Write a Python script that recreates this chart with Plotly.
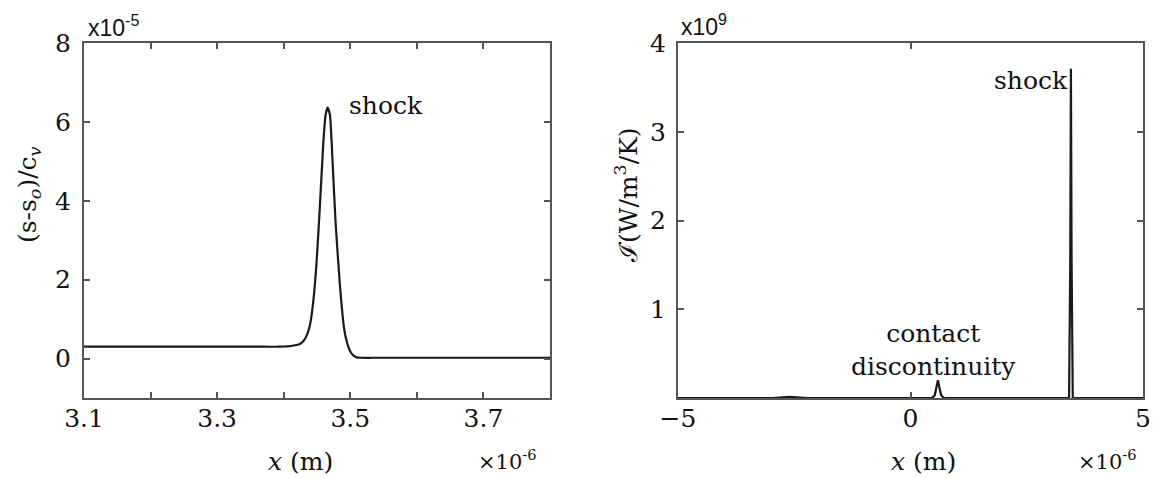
import plotly.graph_objects as go

# Entropy profile across the shock (x in 1e-6 m, value in 1e-5)
x_entropy = [3.10, 3.20, 3.30, 3.35, 3.37, 3.39, 3.40, 3.405, 3.415, 3.4243, 3.4300,
             3.4344, 3.4393, 3.4443, 3.4494, 3.4544, 3.4593, 3.4629, 3.4659,
             3.4694, 3.4734, 3.4779, 3.4844, 3.4908, 3.4955, 3.4994, 3.5045,
             3.5095, 3.518, 3.532, 3.55, 3.60, 3.70, 3.80]
s_entropy = [0.30, 0.30, 0.30, 0.30, 0.30, 0.30, 0.305, 0.31, 0.33, 0.37, 0.45,
             0.58, 0.84, 1.43, 2.45, 3.89, 5.41, 6.18, 6.36,
             6.18, 4.99, 3.46, 1.86, 0.75, 0.38, 0.20, 0.08,
             0.03, 0.02, 0.02, 0.02, 0.02, 0.02, 0.02]

# Entropy generation rate over the domain (x in 1e-6 m, value in 1e9 W/m^3/K)
x_gen = [-5.0, -3.0, -2.96, -2.6, -2.23, 0.0, 0.46, 0.52, 0.56, 0.59, 0.62, 0.66,
         0.72, 3.41, 3.435, 3.45, 3.465, 3.49, 5.0]
i_gen = [0.0, 0.0, 0.0, 0.012, 0.0, 0.0, 0.0, 0.03, 0.12, 0.20, 0.12, 0.03,
         0.0, 0.0, 1.5, 3.71, 1.5, 0.0, 0.0]

left_xticks = [3.1, 3.2, 3.3, 3.4, 3.5, 3.6, 3.7, 3.8]
left_xlabels = ["3.1", "", "3.3", "", "3.5", "", "3.7", ""]
left_yticks = [0, 2, 4, 6, 8]
right_xticks = [-5, 0, 5]
right_yticks = [1, 2, 3, 4]

SERIF = "DejaVu Serif"
SANS = "Liberation Sans"
AXC = "#555555"
LINE = "#1a1a1a"
TXT = "#111111"

fig = go.Figure()
fig.add_trace(go.Scatter(x=x_entropy, y=s_entropy, mode="lines",
                         line=dict(color=LINE, width=2.2, shape="spline", smoothing=0.5),
                         xaxis="x", yaxis="y", showlegend=False))
fig.add_trace(go.Scatter(x=x_gen, y=i_gen, mode="lines",
                         line=dict(color=LINE, width=2.2),
                         xaxis="x2", yaxis="y2", showlegend=False))

axis_common = dict(showline=True, linecolor=AXC, linewidth=2, mirror="ticks",
                   ticks="inside", ticklen=6, tickwidth=2, tickcolor=AXC,
                   showgrid=False, zeroline=False, automargin=False,
                   tickfont=dict(family=SERIF, size=25, color=TXT))

fig.update_layout(
    width=1165, height=478,
    margin=dict(l=0, r=0, t=0, b=0, pad=0, autoexpand=False),
    paper_bgcolor="white", plot_bgcolor="white",
    font=dict(family=SERIF),
    xaxis=dict(domain=[84 / 1165, 550 / 1165], range=[3.1, 3.8],
               tickvals=left_xticks, ticktext=left_xlabels, anchor="y",
               ticklabelstandoff=-3, **axis_common),
    yaxis=dict(domain=[80 / 478, 435 / 478], range=[-1, 8],
               tickvals=left_yticks, anchor="x", ticklabelstandoff=6, **axis_common),
    xaxis2=dict(domain=[678 / 1165, 1143 / 1165], range=[-5, 5],
                tickvals=right_xticks, anchor="y2", ticklabelstandoff=-3, **axis_common),
    yaxis2=dict(domain=[80 / 478, 435 / 478], range=[0, 4],
                tickvals=right_yticks, anchor="x2", ticklabelstandoff=5, **axis_common),
)

def note(text, x, y, size, family=SERIF, xanchor="center", yanchor="middle", angle=0):
    fig.add_annotation(text=text, x=x, y=y, xref="paper", yref="paper",
                       xanchor=xanchor, yanchor=yanchor, showarrow=False,
                       textangle=angle, font=dict(family=family, size=size, color=TXT))

# axis titles
note("<i>x</i> (m)", 300 / 1165, 1 - 461 / 478, 25)
note("<i>x</i> (m)", 923 / 1165, 1 - 461 / 478, 25)
note("(s-s<sub><i>o</i></sub>)/c<sub><i>v</i></sub>", 29 / 1165, 1 - 195 / 478, 25, angle=-90)
note("ℐ̇(W/m<sup>3</sup>/K)", 626 / 1165, 1 - 195 / 478, 25, angle=-90)

# exponent labels
note("×10<sup>-6</sup>", 476 / 1165, 1 - 460 / 478, 21, xanchor="left")
note("×10<sup>-6</sup>", 1076 / 1165, 1 - 460 / 478, 21, xanchor="left")
note("x10<sup>-5</sup>", 86 / 1165, 1 - 26 / 478, 23, family=SANS, xanchor="left")
note("x10<sup>9</sup>", 679 / 1165, 1 - 25 / 478, 23, family=SANS, xanchor="left")

# feature labels
note("shock", 386 / 1165, 1 - 105 / 478, 25)
note("shock", 1031 / 1165, 1 - 81 / 478, 25)
note("contact<br>discontinuity", 933 / 1165, 1 - 350 / 478, 25)

fig.write_html("out.html")
